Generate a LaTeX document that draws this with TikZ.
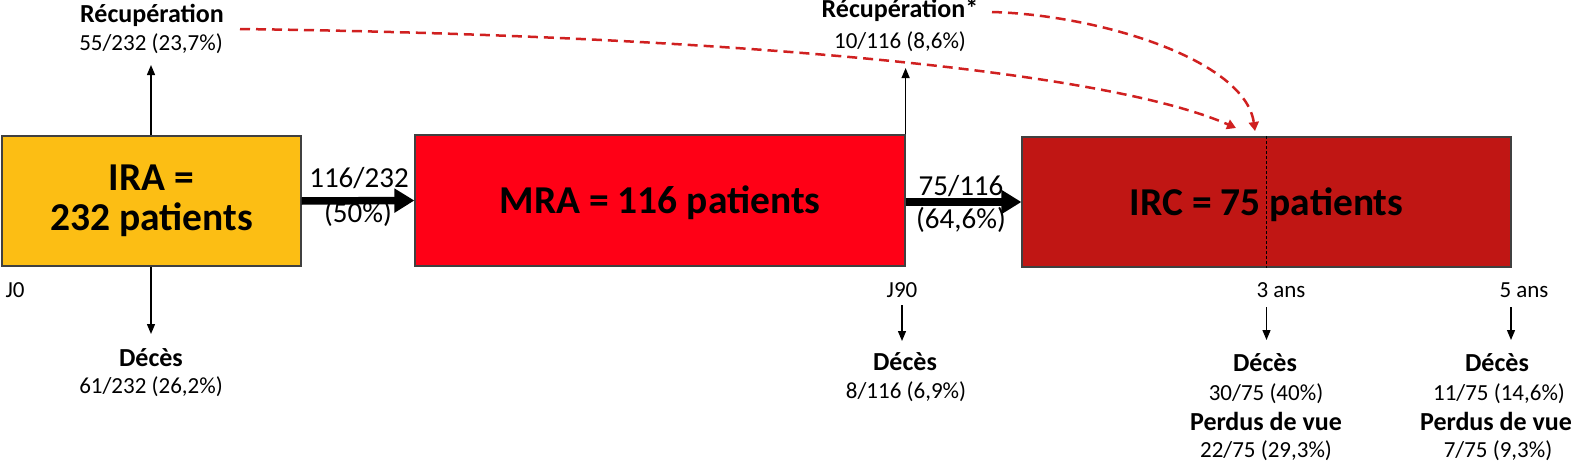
\documentclass[tikz,border=0pt]{standalone}
\usepackage{fontspec}
\setmainfont{Carlito}
\usetikzlibrary{arrows.meta}
\definecolor{iracol}{RGB}{252,190,20}
\definecolor{mracol}{RGB}{255,0,22}
\definecolor{irccol}{RGB}{192,22,20}
\definecolor{dashred}{RGB}{208,32,32}
\tikzset{
  box/.style={draw=black!75, line width=1.2pt, inner sep=0pt, font=\fontsize{39.5}{40}\selectfont\bfseries},
  lbl/.style={font=\fontsize{23}{26}\selectfont, anchor=base, inner sep=0pt},
  blbl/.style={font=\fontsize{26}{28}\selectfont\bfseries, anchor=base, inner sep=0pt},
  arrlbl/.style={font=\fontsize{29}{32}\selectfont, anchor=base, inner sep=0pt},
  thinarr/.style={line width=1.3pt, -{Triangle[length=10pt,width=8pt]}},
  thickarr/.style={line width=7.5pt, -{Triangle[length=20pt,width=23pt]}},
  reddash/.style={draw=dashred, line width=2.5pt, dash pattern=on 10pt off 6pt, -{Triangle[length=9pt,width=10pt]}, color=dashred},
  sepline/.style={line width=1.1pt, dash pattern=on 3pt off 2pt}
}
\begin{document}
\begin{tikzpicture}[x=1pt,y=-1pt]
\useasboundingbox (0,0) rectangle (1575,463);
% boxes
\node[box, fill=iracol, minimum width=299pt, minimum height=130pt, align=center] (ira) at (151.5,201) {IRA =\\232 patients};
\node[box, fill=mracol, minimum width=490pt, minimum height=131pt, text height=26pt, text depth=0pt] (mra) at (660,200.5) {MRA = 116 patients};
\node[box, fill=irccol, minimum width=489pt, minimum height=130pt, text height=26pt, text depth=0pt] (irc) at (1266.5,202) {IRC = 75 patients};
\draw[sepline] (irc.north) -- (irc.south);
% thick arrows
\draw[thickarr] (ira.east) -- (mra.west);
\draw[thickarr] (mra.east |- irc.west) -- (irc.west);
\node[arrlbl] (l1a) at (359,187) {116/232};
\node[arrlbl] (l1b) at (358,222) {(50\%)};
\node[arrlbl] (l2a) at (961,195) {75/116};
\node[arrlbl] (l2b) at (961,228) {(64,6\%)};
% IRA column
\node[blbl] (rec1) at (152,22) {Récupération};
\node[lbl] (rec1v) at (151,50) {55/232 (23,7\%)};
\coordinate (c1up) at (151,65);
\draw[thinarr] (ira.north -| c1up) -- (c1up);
\coordinate (c1dn) at (151,334);
\draw[thinarr] (ira.south -| c1dn) -- (c1dn);
\node[blbl] (dec1) at (151,366) {Décès};
\node[lbl] (dec1v) at (151,393) {61/232 (26,2\%)};
\node[lbl] (j0) at (15,297) {J0};
% MRA column
\node[blbl] (rec2) at (900,17) {Récupération*};
\node[lbl] (rec2v) at (900,48) {10/116 (8,6\%)};
\coordinate (c2up) at (mra.north east |- 0,68);
\draw[thinarr] (mra.north east) -- (c2up);
\node[lbl] (j90) at (902,297) {J90};
\coordinate (a90s) at (902,305);
\coordinate (a90e) at (902,341);
\draw[thinarr] (a90s) -- (a90e);
\node[blbl] (dec2) at (905,370) {Décès};
\node[lbl] (dec2v) at (906,398) {8/116 (6,9\%)};
% IRC columns
\node[lbl] (ans3) at (1281,297) {3 ans};
\node[lbl] (ans5) at (1524,297) {5 ans};
\coordinate (a3s) at (1266.5,307);
\coordinate (a3e) at (1266.5,340);
\draw[thinarr] (a3s) -- (a3e);
\coordinate (a5s) at (1511,307);
\coordinate (a5e) at (1511,340);
\draw[thinarr] (a5s) -- (a5e);
\node[blbl] (dec3) at (1265,371) {Décès};
\node[lbl] (dec3v) at (1266,400) {30/75 (40\%)};
\node[blbl] (pdv3) at (1266,430) {Perdus de vue};
\node[lbl] (pdv3v) at (1266,457) {22/75 (29,3\%)};
\node[blbl] (dec5) at (1497,371) {Décès};
\node[lbl] (dec5v) at (1499,400) {11/75 (14,6\%)};
\node[blbl] (pdv5) at (1496,430) {Perdus de vue};
\node[lbl] (pdv5v) at (1498,457) {7/75 (9,3\%)};
% red dashed curves
\coordinate (r1s) at (240,29);
\coordinate (r1e) at (1236,128);
\draw[reddash] (r1s) .. controls (700,35) and (1100,68) .. (r1e);
\coordinate (r2s) at (992,12);
\coordinate (r2e) at (1255,131);
\draw[reddash] (r2s) .. controls (1100,15) and (1245,60) .. (r2e);
\end{tikzpicture}
\end{document}
